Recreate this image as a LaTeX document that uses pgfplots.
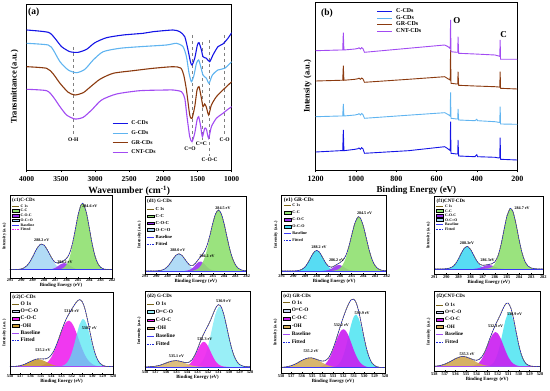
\documentclass[border=0pt]{standalone}
\usepackage{fontspec}
\setmainfont{Liberation Serif}
\usepackage{pgfplots}
\pgfplotsset{compat=1.18}
\definecolor{cC}{HTML}{1414E6}
\definecolor{cG}{HTML}{60B4F0}
\definecolor{cGR}{HTML}{8B3A0F}
\definecolor{cCNT}{HTML}{A24BF2}
\definecolor{rawc}{HTML}{7A6418}
\definecolor{fitc}{HTML}{1E2ADC}
\definecolor{basec}{HTML}{3A3AF5}
\definecolor{fcc}{HTML}{8FE070}
\definecolor{fcoc}{HTML}{9A32F0}
\definecolor{focoA}{HTML}{A9D7F5}
\definecolor{focoB}{HTML}{45D8F2}
\definecolor{fmag}{HTML}{EE22EE}
\definecolor{foh}{HTML}{C99A35}
\definecolor{foco}{HTML}{55E5F2}
\definecolor{flav}{HTML}{C8D4F5}
\tikzset{
 pk/.style={font=\bfseries\fontsize{4.1}{4.5}\selectfont, inner sep=0pt},
 ttl/.style={font=\bfseries\fontsize{5}{5.5}\selectfont, anchor=north west, inner sep=0pt},
}
\pgfplotsset{
 area legend/.style={legend image code/.code={\fill[##1] (0pt,-1.3pt) rectangle (7pt,1.5pt);}},
 xpsbase/.style={scale only axis, x dir=reverse, ytick=\empty, axis on top,
   axis line style={line width=0.5pt}, tick style={line width=0.4pt, black},
   tick align=inside, major tick length=1.2pt, xtick pos=left,
   tick label style={font=\bfseries\fontsize{4.3}{4.5}\selectfont, inner sep=0.8pt},
   /pgf/number format/assume math mode=true, /pgf/number format/1000 sep={},
   xlabel={Binding Energy (eV)}, ylabel={Intensity (a.u.)},
   xlabel style={font=\bfseries\fontsize{4.8}{5}\selectfont, inner sep=0.6pt},
   every axis y label/.style={at={(rel axis cs:-0.025,0.5)}, rotate=90, anchor=south,
     font=\bfseries\fontsize{4.3}{5}\selectfont, inner sep=1pt},
   legend image code/.code={\draw[##1] (0pt,0pt) -- (7pt,0pt);},
   legend cell align=left,
   legend style={draw=none, fill=none, at={(rel axis cs:0.015,0.88)}, anchor=north west,
     inner sep=0pt, /tikz/every odd column/.append style={column sep=1.2pt}}},
 xpsC/.style={xpsbase, xmin=282, xmax=291, xtick={282,283,...,291}},
 xpsO/.style={xpsbase, xmin=528, xmax=538, xtick={528,529,...,538}},
 comp/.style={draw=none, forget plot, smooth, fill opacity=0.9},
 rawl/.style={color=rawc, line width=0.55pt, smooth, forget plot},
 fitl/.style={color=fitc, line width=0.6pt, dash pattern=on 1.6pt off 1pt, smooth, forget plot},
 basel/.style={color=basec, line width=0.6pt, forget plot},
}
\begin{document}
\begin{tikzpicture}
\useasboundingbox (0pt,0pt) rectangle (550pt,391pt);
% ---------------- (a) FTIR ----------------
\begin{axis}[at={(26.7pt,221pt)}, anchor=south west, scale only axis, width=205pt, height=166pt,
  x dir=reverse, xmin=1000, xmax=4000, ymin=0, ymax=166, ytick=\empty,
  xtick={1000,1500,2000,2500,3000,3500,4000}, xtick pos=left, tick align=outside,
  major tick length=2.5pt, axis line style={line width=0.8pt}, tick style={line width=0.6pt, black},
  tick label style={font=\bfseries\fontsize{7.5}{8}\selectfont},
  /pgf/number format/assume math mode=true, /pgf/number format/1000 sep={},
  xlabel={Wavenumber (cm\textsuperscript{-1})}, ylabel={Transmittance (a.u.)},
  xlabel style={font=\bfseries\fontsize{9.5}{10}\selectfont, inner sep=1pt},
  every axis y label/.style={at={(rel axis cs:-0.035,0.5)}, rotate=90, anchor=south,
     font=\bfseries\fontsize{8.5}{9}\selectfont, inner sep=1pt},
  legend image code/.code={\draw[#1] (0pt,0pt) -- (15pt,0pt);},
  legend cell align=left,
  legend style={draw=none, fill=none, at={(rel axis cs:0.415,0.30)}, anchor=north west,
     font=\bfseries\fontsize{5.8}{6}\selectfont, row sep=3.8pt, inner sep=0pt,
     nodes={inner sep=0.3pt}, /tikz/every odd column/.append style={column sep=3pt}}]
\draw[gray, dashed, line width=0.4pt] (axis cs:3319,123) -- (axis cs:3319,36);
\draw[gray, dashed, line width=0.4pt] (axis cs:1580,135) -- (axis cs:1580,27);
\draw[gray, dashed, line width=0.4pt] (axis cs:1435,128) -- (axis cs:1435,30);
\draw[gray, dashed, line width=0.4pt] (axis cs:1332,130) -- (axis cs:1332,14);
\draw[gray, dashed, line width=0.4pt] (axis cs:1103,135) -- (axis cs:1103,34);
\addplot[cC, line width=1.1pt, smooth, tension=0.4] coordinates {(4000,140) (3685,137.7) (3587,131.7) (3489,123.3) (3367,118.3) (3246,117.7) (3123,120.7) (3002,127.3) (2831,132.3) (2589,135) (2296,136.7) (2150,138.3) (1858,140) (1760,138.3) (1687,133.3) (1639,120) (1604,108.3) (1581,105) (1541,111.7) (1502,125) (1478,127.3) (1443,120) (1420,113.3) (1370,111.7) (1322,108.3) (1274,115) (1201,123.3) (1128,126) (1055,131.7) (1000,137.3)};
\addlegendentry{C-CDs}
\addplot[cG, line width=1.1pt, smooth, tension=0.4] coordinates {(4000,126.7) (3685,125) (3611,120) (3513,108.3) (3392,100) (3270,97.3) (3148,100.7) (3027,110) (2881,118.3) (2637,121.7) (2345,123.3) (1955,125) (1808,126.7) (1712,123.3) (1662,113.3) (1624,96.7) (1589,88.3) (1551,95) (1516,106.7) (1483,110) (1453,103.3) (1420,95) (1370,91.7) (1332,86.7) (1282,95) (1201,100) (1103,101.7) (1000,108.3)};
\addlegendentry{G-CDs}
\addplot[cGR, line width=1.1pt, smooth, tension=0.4] coordinates {(4000,103.3) (3708,101.7) (3611,96) (3513,86.7) (3392,77.7) (3294,75) (3173,77.3) (3075,82.7) (2929,90.7) (2735,96.7) (2443,99.3) (2150,101.7) (1858,103.3) (1746,102) (1702,95) (1662,80) (1614,55) (1581,51.7) (1541,63.3) (1507,80) (1478,83.3) (1443,71.7) (1420,63.3) (1395,66) (1370,62.7) (1337,55) (1297,65) (1224,73.3) (1128,80) (1000,88.3)};
\addlegendentry{GR-CDs}
\addplot[cCNT, line width=1.1pt, smooth, tension=0.4] coordinates {(4000,80.7) (3708,79.3) (3611,73) (3513,63.3) (3416,55) (3294,51) (3173,52.7) (3050,60) (2904,70) (2685,76) (2345,79.3) (1955,80) (1858,80) (1735,78.3) (1687,71.7) (1654,53.3) (1614,33.3) (1581,28.3) (1541,36.7) (1507,50) (1483,53.3) (1453,43.3) (1429,33.3) (1395,41.7) (1370,40.7) (1337,31.7) (1297,43.3) (1224,51.7) (1128,56.7) (1055,60.7) (1000,63.3)};
\addlegendentry{CNT-CDs}
\node[font=\bfseries\fontsize{9.5}{10}\selectfont, anchor=north west, inner sep=0pt] at (rel axis cs:0.006,0.976) {(a)};
\node[font=\bfseries\fontsize{5.5}{6}\selectfont] at (axis cs:3319,30.7) {O-H};
\node[font=\bfseries\fontsize{5.5}{6}\selectfont] at (axis cs:1610,21.7) {C=O};
\node[font=\bfseries\fontsize{5.5}{6}\selectfont] at (axis cs:1443,26) {C=C};
\node[font=\bfseries\fontsize{5.5}{6}\selectfont] at (axis cs:1322,10) {C-O-C};
\node[font=\bfseries\fontsize{5.5}{6}\selectfont] at (axis cs:1103,30) {C-O};
\end{axis}
% ---------------- (b) XPS survey ----------------
\begin{axis}[at={(315.7pt,221pt)}, anchor=south west, scale only axis, width=201.6pt, height=167.3pt,
  x dir=reverse, xmin=200, xmax=1200, ymin=0, ymax=167.3, ytick=\empty,
  xtick={200,400,600,800,1000,1200}, xtick pos=left, tick align=outside,
  major tick length=2.5pt, axis line style={line width=0.8pt}, tick style={line width=0.6pt, black},
  tick label style={font=\bfseries\fontsize{8}{8.5}\selectfont},
  /pgf/number format/assume math mode=true, /pgf/number format/1000 sep={},
  xlabel={Binding Energy (eV)}, ylabel={Intensity (a.u.)},
  xlabel style={font=\bfseries\fontsize{9}{10}\selectfont, inner sep=1pt},
  every axis y label/.style={at={(rel axis cs:-0.015,0.5)}, rotate=90, anchor=south,
     font=\bfseries\fontsize{8.5}{9}\selectfont, inner sep=1pt},
  legend image code/.code={\draw[#1] (0pt,0pt) -- (15pt,0pt);},
  legend cell align=left,
  legend style={draw=none, fill=none, at={(rel axis cs:0.303,0.968)}, anchor=north west,
     font=\bfseries\fontsize{6}{6.5}\selectfont, row sep=0.6pt, inner sep=0pt,
     nodes={inner sep=0.3pt}, /tikz/every odd column/.append style={column sep=3pt}}]
\addplot[cC, line width=0.9pt] coordinates {(1200,18) (1079,19.3) (1066,19.3) (1063,40) (1060,19.3) (1005,20.7) (990,21.3) (985,22) (978,20.7) (972,22.3) (966,21.3) (958,16.7) (740,19.3) (560,23.3) (545,21.3) (533,19.5) (531,48.3) (529,16.7) (500,16) (495,16) (494,30) (491,14) (410,13.3) (401,15.3) (397,13.3) (311,12.7) (292,12) (287,12.3) (285,32.3) (283,10.7) (200,10)};
\addlegendentry{C-CDs}
\addplot[cG, line width=0.9pt] coordinates {(1200,53.3) (1079,54) (1066,54) (1063,66) (1060,54) (1005,55) (990,55.7) (985,56.3) (978,55) (972,56.5) (966,55.5) (958,51.7) (740,54.8) (560,57.3) (545,55.7) (533,54) (531,77.7) (529,51.7) (500,51) (495,51) (494,61) (491,50) (410,49.3) (401,50.7) (397,49.3) (311,48.3) (292,47.7) (287,47.5) (285,63.3) (283,46) (200,45.7)};
\addlegendentry{G-CDs}
\addplot[cGR, line width=0.9pt] coordinates {(1200,89) (1079,89.7) (1066,89.7) (1063,104.3) (1060,89.7) (1005,90.7) (990,91.3) (985,91.8) (978,90.7) (972,92) (966,91.2) (958,87.7) (740,90.7) (560,93.3) (545,91.3) (533,90) (531,120) (529,86.7) (500,86) (495,86) (494,98.3) (491,84.7) (410,84) (311,83.3) (292,83) (287,82.8) (285,98.3) (283,81.7) (200,81)};
\addlegendentry{GR-CDs}
\addplot[cCNT, line width=0.9pt] coordinates {(1200,119.3) (1079,120) (1066,120) (1063,137.3) (1060,120) (1005,121) (990,121.6) (985,122.2) (978,121) (972,122.3) (966,121.5) (958,117.7) (740,121.7) (560,125) (545,123.5) (533,121.5) (531,150) (529,118.3) (500,117.7) (495,117.7) (494,133.3) (491,116.7) (410,116) (311,115) (292,114) (287,113.5) (285,130) (283,110.7) (200,110.7)};
\addlegendentry{CNT-CDs}
\node[font=\bfseries\fontsize{9.5}{10}\selectfont, anchor=north west, inner sep=0pt] at (rel axis cs:0.026,0.962) {(b)};
\node[font=\bfseries\fontsize{9}{10}\selectfont] at (axis cs:500,149) {O};
\node[font=\bfseries\fontsize{9}{10}\selectfont] at (axis cs:268,135) {C};
\end{axis}
% ---------------- (c1) ----------------
\begin{axis}[xpsC, at={(10pt,113pt)}, anchor=south west, width=102pt, height=83pt, ymin=-0.1, ymax=0.9,
  legend style={font=\bfseries\fontsize{3.8}{4}\selectfont, row sep=0.8pt, at={(rel axis cs:0.015,0.89)},
    nodes={inner sep=0.2pt, text height=2.7pt, text depth=0.8pt}}]
\addplot[comp, fill=focoA] coordinates {(290.5,0) (290,0.009) (289.75,0.023) (289.5,0.050) (289.25,0.094) (289,0.155) (288.75,0.224) (288.5,0.281) (288.25,0.309) (288,0.297) (287.75,0.249) (287.5,0.183) (287.25,0.117) (287,0.065) (286.75,0.032) (286.5,0.014) (286.25,0.005) (286,0)};
\addplot[comp, fill=fcoc] coordinates {(287.75,0) (287.5,0.003) (287.25,0.009) (287,0.022) (286.75,0.044) (286.5,0.067) (286.25,0.080) (286,0.074) (285.75,0.053) (285.5,0.030) (285.25,0.013) (285,0.004) (284.75,0)};
\addplot[comp, fill=fcc] coordinates {(287,0) (286.75,0.002) (286.5,0.007) (286.25,0.023) (286,0.062) (285.75,0.143) (285.5,0.279) (285.25,0.462) (285,0.650) (284.75,0.777) (284.6,0.800) (284.5,0.790) (284.25,0.682) (284,0.501) (283.75,0.313) (283.5,0.166) (283.25,0.075) (283,0.029) (282.75,0.009) (282.5,0.003) (282.25,0)};
\addplot[basel] coordinates {(291,0) (282,0)};
\addplot[rawl] coordinates {(291,0) (290.5,0.001) (290,0.009) (289.75,0.023) (289.5,0.050) (289.25,0.094) (289,0.155) (288.75,0.224) (288.5,0.281) (288.25,0.309) (288,0.297) (287.75,0.249) (287.5,0.186) (287.25,0.126) (287,0.087) (286.75,0.078) (286.5,0.088) (286.25,0.108) (286,0.138) (285.75,0.196) (285.5,0.309) (285.25,0.475) (285,0.654) (284.75,0.777) (284.6,0.800) (284.5,0.790) (284.25,0.682) (284,0.501) (283.75,0.313) (283.5,0.166) (283.25,0.075) (283,0.029) (282.75,0.009) (282.5,0.003) (282,0)};
\addplot[fitl] coordinates {(291,0) (290.5,0.001) (290,0.009) (289.75,0.023) (289.5,0.050) (289.25,0.094) (289,0.155) (288.75,0.224) (288.5,0.281) (288.25,0.309) (288,0.297) (287.75,0.249) (287.5,0.186) (287.25,0.126) (287,0.087) (286.75,0.078) (286.5,0.088) (286.25,0.108) (286,0.138) (285.75,0.196) (285.5,0.309) (285.25,0.475) (285,0.654) (284.75,0.777) (284.6,0.800) (284.5,0.790) (284.25,0.682) (284,0.501) (283.75,0.313) (283.5,0.166) (283.25,0.075) (283,0.029) (282.75,0.009) (282.5,0.003) (282,0)};
\addlegendimage{rawc, line width=0.6pt}\addlegendentry{C 1s}
\addlegendimage{area legend, fill=fcc}\addlegendentry{C-C}
\addlegendimage{area legend, fill=fcoc}\addlegendentry{C-O-C}
\addlegendimage{area legend, fill=focoA}\addlegendentry{O-C=O}
\addlegendimage{basec, line width=0.6pt}\addlegendentry{Baseline}
\addlegendimage{fmag, line width=0.6pt, dash pattern=on 1.6pt off 1pt}\addlegendentry{Fitted}
\node[ttl] at (rel axis cs:0.02,0.97) {(c1)C-CDs};
\node[pk] at (axis cs:283.95,0.77) {284.6 eV};
\node[pk] at (axis cs:288.2,0.35) {288.2 eV};
\node[pk] at (axis cs:286.15,0.085) {286.2 eV};
\end{axis}
% ---------------- (d1) ----------------
\begin{axis}[xpsC, at={(145pt,117pt)}, anchor=south west, width=101.7pt, height=78pt, ymin=-0.04, ymax=0.96,
  legend style={font=\bfseries\fontsize{4.6}{5}\selectfont, row sep=2.2pt, at={(rel axis cs:0.015,0.86)},
    nodes={inner sep=0.2pt, text height=3.3pt, text depth=1pt}}]
\addplot[comp, fill=focoA] coordinates {(290,0) (289.75,0.003) (289.5,0.010) (289.25,0.025) (289,0.055) (288.75,0.101) (288.5,0.156) (288.25,0.202) (288,0.220) (287.75,0.202) (287.5,0.156) (287.25,0.101) (287,0.055) (286.75,0.025) (286.5,0.010) (286.25,0.003) (286,0)};
\addplot[comp, fill=fcoc] coordinates {(287.5,0) (287.25,0.005) (287,0.016) (286.75,0.042) (286.5,0.081) (286.25,0.114) (286.1,0.120) (286,0.117) (285.75,0.089) (285.5,0.049) (285.25,0.020) (285,0.006) (284.75,0)};
\addplot[comp, fill=fcc] coordinates {(287,0) (286.75,0.004) (286.5,0.013) (286.25,0.034) (286,0.079) (285.75,0.158) (285.5,0.281) (285.25,0.439) (285,0.605) (284.75,0.732) (284.5,0.780) (284.25,0.732) (284,0.605) (283.75,0.439) (283.5,0.281) (283.25,0.158) (283,0.079) (282.75,0.034) (282.5,0.013) (282.25,0.004) (282,0)};
\addplot[basel] coordinates {(291,0) (282,0)};
\addplot[rawl] coordinates {(291,0) (290,0) (289.75,0.003) (289.5,0.010) (289.25,0.025) (289,0.055) (288.75,0.101) (288.5,0.156) (288.25,0.202) (288,0.220) (287.75,0.202) (287.5,0.156) (287.25,0.106) (287,0.071) (286.75,0.071) (286.5,0.104) (286.25,0.151) (286,0.196) (285.75,0.247) (285.5,0.330) (285.25,0.459) (285,0.611) (284.75,0.732) (284.5,0.780) (284.25,0.732) (284,0.605) (283.75,0.439) (283.5,0.281) (283.25,0.158) (283,0.079) (282.75,0.034) (282.5,0.013) (282.25,0.004) (282,0.001)};
\addplot[fitl] coordinates {(291,0) (290,0) (289.75,0.003) (289.5,0.010) (289.25,0.025) (289,0.055) (288.75,0.101) (288.5,0.156) (288.25,0.202) (288,0.220) (287.75,0.202) (287.5,0.156) (287.25,0.106) (287,0.071) (286.75,0.071) (286.5,0.104) (286.25,0.151) (286,0.196) (285.75,0.247) (285.5,0.330) (285.25,0.459) (285,0.611) (284.75,0.732) (284.5,0.780) (284.25,0.732) (284,0.605) (283.75,0.439) (283.5,0.281) (283.25,0.158) (283,0.079) (282.75,0.034) (282.5,0.013) (282.25,0.004) (282,0.001)};
\addlegendimage{rawc, line width=0.6pt}\addlegendentry{C 1s}
\addlegendimage{area legend, fill=fcc}\addlegendentry{C-C}
\addlegendimage{area legend, fill=fcoc}\addlegendentry{C-O-C}
\addlegendimage{area legend, fill=focoA}\addlegendentry{O-C=O}
\addlegendimage{basec, line width=0.6pt}\addlegendentry{Baseline}
\addlegendimage{fitc, line width=0.6pt, dash pattern=on 1.6pt off 1pt}\addlegendentry{Fitted}
\node[ttl] at (rel axis cs:0.02,0.97) {(d1) G-CDs};
\node[pk] at (axis cs:284.1,0.81) {284.5 eV};
\node[pk] at (axis cs:288.1,0.265) {288.0 eV};
\node[pk] at (axis cs:285.5,0.19) {286.1 eV};
\end{axis}
% ---------------- (e1) ----------------
\begin{axis}[xpsC, at={(281.7pt,117pt)}, anchor=south west, width=105pt, height=78.5pt, ymin=-0.04, ymax=0.96,
  legend style={font=\bfseries\fontsize{4.1}{4.5}\selectfont, row sep=2.7pt, at={(rel axis cs:0.015,0.90)},
    nodes={inner sep=0.2pt, text height=3pt, text depth=0.9pt}}]
\addplot[comp, fill=focoB] coordinates {(289.75,0) (289.5,0.006) (289.25,0.020) (289,0.050) (288.75,0.103) (288.5,0.172) (288.25,0.235) (288,0.260) (287.75,0.235) (287.5,0.172) (287.25,0.103) (287,0.050) (286.75,0.020) (286.5,0.006) (286.25,0)};
\addplot[comp, fill=fcoc] coordinates {(287.5,0) (287.25,0.003) (287,0.010) (286.75,0.026) (286.5,0.051) (286.25,0.071) (286,0.073) (285.75,0.055) (285.5,0.031) (285.25,0.013) (285,0.004) (284.75,0)};
\addplot[comp, fill=fcc] coordinates {(286.75,0) (286.5,0.004) (286.25,0.012) (286,0.033) (285.75,0.080) (285.5,0.165) (285.25,0.293) (285,0.451) (284.75,0.597) (284.5,0.682) (284.4,0.690) (284.25,0.672) (284,0.571) (283.75,0.418) (283.5,0.264) (283.25,0.144) (283,0.068) (282.75,0.028) (282.5,0.010) (282.25,0.003) (282,0)};
\addplot[basel] coordinates {(291,0) (282,0)};
\addplot[rawl] coordinates {(291,0) (290,0) (289.75,0.001) (289.5,0.006) (289.25,0.020) (289,0.050) (288.75,0.103) (288.5,0.172) (288.25,0.235) (288,0.260) (287.75,0.235) (287.5,0.172) (287.25,0.106) (287,0.060) (286.75,0.046) (286.5,0.061) (286.25,0.083) (286,0.106) (285.75,0.135) (285.5,0.196) (285.25,0.306) (285,0.455) (284.75,0.597) (284.5,0.682) (284.4,0.690) (284.25,0.672) (284,0.571) (283.75,0.418) (283.5,0.264) (283.25,0.144) (283,0.068) (282.75,0.028) (282.5,0.010) (282.25,0.003) (282,0.001)};
\addplot[fitl] coordinates {(291,0) (290,0) (289.75,0.001) (289.5,0.006) (289.25,0.020) (289,0.050) (288.75,0.103) (288.5,0.172) (288.25,0.235) (288,0.260) (287.75,0.235) (287.5,0.172) (287.25,0.106) (287,0.060) (286.75,0.046) (286.5,0.061) (286.25,0.083) (286,0.106) (285.75,0.135) (285.5,0.196) (285.25,0.306) (285,0.455) (284.75,0.597) (284.5,0.682) (284.4,0.690) (284.25,0.672) (284,0.571) (283.75,0.418) (283.5,0.264) (283.25,0.144) (283,0.068) (282.75,0.028) (282.5,0.010) (282.25,0.003) (282,0.001)};
\addlegendimage{rawc, line width=0.6pt}\addlegendentry{C 1s}
\addlegendimage{area legend, fill=fcc}\addlegendentry{C-C}
\addlegendimage{area legend, fill=fcoc}\addlegendentry{C-O-C}
\addlegendimage{area legend, fill=focoB}\addlegendentry{O-C-O}
\addlegendimage{basec, line width=0.6pt}\addlegendentry{Baseline}
\addlegendimage{fitc, line width=0.6pt, dash pattern=on 1.6pt off 1pt}\addlegendentry{Fitted}
\node[ttl, font=\bfseries\fontsize{5.4}{6}\selectfont] at (rel axis cs:0.02,0.97) {(e1) GR-CDs};
\node[pk] at (axis cs:283.9,0.74) {284.5 eV};
\node[pk] at (axis cs:287.8,0.30) {288.2 eV};
\node[pk] at (axis cs:286.3,0.13) {286.2 eV};
\end{axis}
% ---------------- (f1) ----------------
\begin{axis}[xpsC, at={(434.3pt,116.7pt)}, anchor=south west, width=109pt, height=77.6pt, ymin=-0.07, ymax=0.93,
  legend style={font=\bfseries\fontsize{3.8}{4}\selectfont, row sep=0.6pt, at={(rel axis cs:0.015,0.90)},
    nodes={inner sep=0.2pt, text height=2.7pt, text depth=0.8pt}}]
\addplot[comp, fill=focoB] coordinates {(290.25,0) (290,0.002) (289.75,0.009) (289.5,0.027) (289.25,0.065) (289,0.129) (288.75,0.208) (288.5,0.271) (288.3,0.290) (288.25,0.289) (288,0.250) (287.75,0.176) (287.5,0.101) (287.25,0.047) (287,0.018) (286.75,0.005) (286.5,0)};
\addplot[comp, fill=fcoc] coordinates {(287.75,0) (287.5,0.004) (287.25,0.012) (287,0.027) (286.75,0.043) (286.5,0.050) (286.25,0.043) (286,0.027) (285.75,0.012) (285.5,0.004) (285.25,0)};
\addplot[comp, fill=fcc] coordinates {(287,0) (286.75,0.002) (286.5,0.006) (286.25,0.022) (286,0.063) (285.75,0.152) (285.5,0.301) (285.25,0.498) (285,0.682) (284.75,0.777) (284.7,0.780) (284.5,0.735) (284.25,0.577) (284,0.377) (283.75,0.204) (283.5,0.092) (283.25,0.034) (283,0.011) (282.75,0.003) (282.5,0)};
\addplot[basel] coordinates {(291,0) (282,0)};
\addplot[rawl] coordinates {(291,0) (290.25,0) (290,0.002) (289.75,0.009) (289.5,0.027) (289.25,0.065) (289,0.129) (288.75,0.208) (288.5,0.271) (288.3,0.290) (288.25,0.289) (288,0.250) (287.75,0.176) (287.5,0.105) (287.25,0.059) (287,0.045) (286.75,0.050) (286.5,0.057) (286.25,0.065) (286,0.090) (285.75,0.164) (285.5,0.305) (285.25,0.498) (285,0.682) (284.75,0.777) (284.7,0.780) (284.5,0.735) (284.25,0.577) (284,0.377) (283.75,0.204) (283.5,0.092) (283.25,0.034) (283,0.011) (282.75,0.003) (282.5,0) (282,0)};
\addplot[fitl] coordinates {(291,0) (290.25,0) (290,0.002) (289.75,0.009) (289.5,0.027) (289.25,0.065) (289,0.129) (288.75,0.208) (288.5,0.271) (288.3,0.290) (288.25,0.289) (288,0.250) (287.75,0.176) (287.5,0.105) (287.25,0.059) (287,0.045) (286.75,0.050) (286.5,0.057) (286.25,0.065) (286,0.090) (285.75,0.164) (285.5,0.305) (285.25,0.498) (285,0.682) (284.75,0.777) (284.7,0.780) (284.5,0.735) (284.25,0.577) (284,0.377) (283.75,0.204) (283.5,0.092) (283.25,0.034) (283,0.011) (282.75,0.003) (282.5,0) (282,0)};
\addlegendimage{rawc, line width=0.6pt}\addlegendentry{C 1s}
\addlegendimage{area legend, fill=fcc}\addlegendentry{C-C}
\addlegendimage{area legend, fill=fcoc}\addlegendentry{C-O-C}
\addlegendimage{area legend, fill=focoA}\addlegendentry{O-C=O}
\addlegendimage{basec, line width=0.6pt}\addlegendentry{Baseline}
\addlegendimage{fitc, line width=0.6pt, dash pattern=on 1.6pt off 1pt}\addlegendentry{Fitted}
\node[ttl] at (rel axis cs:0.02,0.97) {(f1)CNT-CDs};
\node[pk] at (axis cs:283.75,0.78) {284.7 eV};
\node[pk] at (axis cs:288.3,0.335) {288.3eV};
\node[pk] at (axis cs:286.6,0.11) {286.3eV};
\end{axis}
% ---------------- (c2) ----------------
\begin{axis}[xpsO, at={(10pt,17pt)}, anchor=south west, width=103pt, height=82pt, ymin=-0.09, ymax=0.91,
  legend style={font=\bfseries\fontsize{5.5}{6}\selectfont, row sep=1.6pt, at={(rel axis cs:0.015,0.89)},
    nodes={inner sep=0.2pt, text height=4pt, text depth=1.2pt}}]
\addplot[comp, fill=fmag] coordinates {(535.5,0) (535.25,0.004) (535,0.010) (534.75,0.020) (534.5,0.038) (534.25,0.068) (534,0.113) (533.75,0.175) (533.5,0.252) (533.25,0.340) (533,0.427) (532.75,0.501) (532.5,0.548) (532.3,0.560) (532.25,0.559) (532,0.533) (531.75,0.474) (531.5,0.393) (531.25,0.304) (531,0.220) (530.75,0.148) (530.5,0.093) (530.25,0.055) (530,0.030) (529.75,0.015) (529.5,0.007) (529.25,0.003) (529,0)};
\addplot[comp, fill=foco, fill opacity=0.75] coordinates {(533.5,0) (533.25,0.002) (533,0.006) (532.75,0.018) (532.5,0.043) (532.25,0.090) (532,0.169) (531.75,0.278) (531.5,0.402) (531.25,0.512) (531,0.574) (530.9,0.580) (530.75,0.567) (530.5,0.493) (530.25,0.377) (530,0.254) (529.75,0.150) (529.5,0.078) (529.25,0.036) (529,0.015) (528.75,0.005) (528.5,0.002) (528.25,0)};
\addplot[comp, fill=foh] coordinates {(538,0.001) (537.5,0.003) (537,0.012) (536.5,0.033) (536,0.064) (535.5,0.088) (535.25,0.090) (535,0.085) (534.75,0.073) (534.5,0.058) (534.25,0.042) (534,0.028) (533.75,0.017) (533.5,0.010) (533.25,0.005) (533,0.002) (532.5,0)};
\addplot[basel, color=cCNT] coordinates {(538,0) (528,0)};
\addplot[rawl] coordinates {(538,0.001) (537.5,0.003) (537,0.012) (536.5,0.033) (536,0.064) (535.5,0.090) (535.25,0.094) (535,0.095) (534.75,0.093) (534.5,0.096) (534.25,0.110) (534,0.141) (533.75,0.192) (533.5,0.262) (533.25,0.347) (533,0.435) (532.75,0.520) (532.5,0.591) (532.25,0.649) (532,0.702) (531.75,0.752) (531.5,0.795) (531.25,0.816) (531,0.794) (530.75,0.715) (530.5,0.586) (530.25,0.432) (530,0.284) (529.75,0.165) (529.5,0.085) (529.25,0.039) (529,0.015) (528.75,0.005) (528.5,0.002) (528,0)};
\addplot[fitl] coordinates {(538,0.001) (537.5,0.003) (537,0.012) (536.5,0.033) (536,0.064) (535.5,0.090) (535.25,0.094) (535,0.095) (534.75,0.093) (534.5,0.096) (534.25,0.110) (534,0.141) (533.75,0.192) (533.5,0.262) (533.25,0.347) (533,0.435) (532.75,0.520) (532.5,0.591) (532.25,0.649) (532,0.702) (531.75,0.752) (531.5,0.795) (531.25,0.816) (531,0.794) (530.75,0.715) (530.5,0.586) (530.25,0.432) (530,0.284) (529.75,0.165) (529.5,0.085) (529.25,0.039) (529,0.015) (528.75,0.005) (528.5,0.002) (528,0)};
\addlegendimage{rawc, line width=0.6pt}\addlegendentry{O 1s}
\addlegendimage{area legend, fill=flav}\addlegendentry{O=C-O}
\addlegendimage{area legend, fill=fmag}\addlegendentry{C-O-C}
\addlegendimage{area legend, fill=foh}\addlegendentry{-OH}
\addlegendimage{cCNT, line width=0.6pt}\addlegendentry{Baseline}
\addlegendimage{fitc, line width=0.6pt, dash pattern=on 1.6pt off 1pt}\addlegendentry{Fitted}
\node[ttl, font=\bfseries\fontsize{5.2}{6}\selectfont] at (rel axis cs:0.02,0.97) {(c2)C-CDs};
\node[pk] at (axis cs:534.8,0.20) {535.2 eV};
\node[pk] at (axis cs:532.0,0.68) {531.9 eV};
\node[pk] at (axis cs:530.3,0.47) {530.7 eV};
\end{axis}
% ---------------- (d2) ----------------
\begin{axis}[xpsO, at={(145pt,21pt)}, anchor=south west, width=105pt, height=78.3pt, ymin=-0.04, ymax=0.96,
  legend style={font=\bfseries\fontsize{5.4}{6}\selectfont, row sep=2.6pt, at={(rel axis cs:0.015,0.88)},
    nodes={inner sep=0.2pt, text height=3.9pt, text depth=1.2pt}}]
\addplot[comp, fill=foco, fill opacity=0.6] coordinates {(533.75,0) (533.5,0.002) (533.25,0.006) (533,0.015) (532.75,0.037) (532.5,0.079) (532.25,0.152) (532,0.262) (531.75,0.405) (531.5,0.559) (531.25,0.690) (531,0.763) (530.9,0.770) (530.75,0.755) (530.5,0.668) (530.25,0.529) (530,0.375) (529.75,0.238) (529.5,0.135) (529.25,0.069) (529,0.031) (528.75,0.013) (528.5,0.005) (528.25,0.002) (528,0)};
\addplot[comp, fill=fmag] coordinates {(534.75,0) (534.5,0.002) (534.25,0.006) (534,0.015) (533.75,0.037) (533.5,0.076) (533.25,0.136) (533,0.209) (532.75,0.277) (532.5,0.316) (532.4,0.320) (532.25,0.312) (532,0.265) (531.75,0.194) (531.5,0.123) (531.25,0.067) (531,0.031) (530.75,0.013) (530.5,0.004) (530.25,0.001) (530,0)};
\addplot[comp, fill=foh!70!white] coordinates {(538,0) (537.5,0.002) (537,0.009) (536.5,0.024) (536,0.049) (535.5,0.072) (535.1,0.080) (535,0.080) (534.75,0.074) (534.5,0.064) (534.25,0.051) (534,0.038) (533.75,0.026) (533.5,0.016) (533.25,0.010) (533,0.005) (532.75,0.003) (532.5,0.001) (532.25,0)};
\addplot[basel] coordinates {(538,0) (528,0)};
\addplot[rawl] coordinates {(538,0) (537.5,0.002) (537,0.009) (536.5,0.024) (536,0.049) (535.5,0.072) (535,0.080) (534.75,0.074) (534.5,0.066) (534.25,0.057) (534,0.053) (533.75,0.063) (533.5,0.094) (533.25,0.152) (533,0.229) (532.75,0.317) (532.5,0.396) (532.25,0.464) (532,0.527) (531.75,0.599) (531.5,0.682) (531.25,0.757) (531,0.794) (530.75,0.768) (530.5,0.672) (530.25,0.530) (530,0.375) (529.75,0.238) (529.5,0.135) (529.25,0.069) (529,0.031) (528.75,0.013) (528.5,0.005) (528.25,0.002) (528,0.001)};
\addplot[fitl] coordinates {(538,0) (537.5,0.002) (537,0.009) (536.5,0.024) (536,0.049) (535.5,0.072) (535,0.080) (534.75,0.074) (534.5,0.066) (534.25,0.057) (534,0.053) (533.75,0.063) (533.5,0.094) (533.25,0.152) (533,0.229) (532.75,0.317) (532.5,0.396) (532.25,0.464) (532,0.527) (531.75,0.599) (531.5,0.682) (531.25,0.757) (531,0.794) (530.75,0.768) (530.5,0.672) (530.25,0.530) (530,0.375) (529.75,0.238) (529.5,0.135) (529.25,0.069) (529,0.031) (528.75,0.013) (528.5,0.005) (528.25,0.002) (528,0.001)};
\addlegendimage{rawc, line width=0.6pt}\addlegendentry{O 1s}
\addlegendimage{area legend, fill=foco!60!white}\addlegendentry{O=C-O}
\addlegendimage{area legend, fill=fmag}\addlegendentry{C-O-C}
\addlegendimage{area legend, fill=foh!70!white}\addlegendentry{-OH}
\addlegendimage{basec, line width=0.6pt}\addlegendentry{Baseline}
\addlegendimage{fitc, line width=0.6pt, dash pattern=on 1.6pt off 1pt}\addlegendentry{Fitted}
\node[ttl] at (rel axis cs:0.02,0.97) {(d2) G-CDs};
\node[pk] at (axis cs:535.0,0.14) {535.1 eV};
\node[pk] at (axis cs:532.3,0.36) {532.3 eV};
\node[pk] at (axis cs:530.5,0.84) {530.9 eV};
\end{axis}
% ---------------- (e2) ----------------
\begin{axis}[xpsO, at={(281pt,17.7pt)}, anchor=south west, width=104pt, height=81.6pt, ymin=-0.07, ymax=0.93,
  legend style={font=\bfseries\fontsize{5.3}{6}\selectfont, row sep=2.5pt, at={(rel axis cs:0.015,0.90)},
    nodes={inner sep=0.2pt, text height=3.8pt, text depth=1.2pt}}]
\addplot[comp, fill=foco] coordinates {(533.25,0) (533,0.005) (532.75,0.013) (532.5,0.034) (532.25,0.076) (532,0.150) (531.75,0.259) (531.5,0.394) (531.25,0.529) (531,0.624) (530.8,0.650) (530.75,0.648) (530.5,0.593) (530.25,0.477) (530,0.338) (529.75,0.211) (529.5,0.116) (529.25,0.056) (529,0.024) (528.75,0.009) (528.5,0.003) (528.25,0.001) (528,0)};
\addplot[comp, fill=fmag!85!blue] coordinates {(534.75,0) (534.5,0.004) (534.25,0.009) (534,0.021) (533.75,0.043) (533.5,0.081) (533.25,0.139) (533,0.215) (532.75,0.303) (532.5,0.387) (532.25,0.447) (532,0.470) (531.75,0.447) (531.5,0.387) (531.25,0.303) (531,0.215) (530.75,0.139) (530.5,0.081) (530.25,0.043) (530,0.021) (529.75,0.009) (529.5,0.004) (529.25,0)};
\addplot[comp, fill=foh!80!white] coordinates {(538,0.002) (537.5,0.009) (537,0.024) (536.5,0.052) (536,0.087) (535.5,0.115) (535.2,0.120) (535,0.118) (534.75,0.108) (534.5,0.094) (534.25,0.076) (534,0.058) (533.75,0.042) (533.5,0.028) (533.25,0.018) (533,0.011) (532.75,0.006) (532.5,0.003) (532.25,0.001) (532,0)};
\addplot[basel] coordinates {(538,0) (528,0)};
\addplot[rawl] coordinates {(538,0.002) (537.5,0.009) (537,0.024) (536.5,0.052) (536,0.087) (535.5,0.115) (535.2,0.120) (535,0.118) (534.75,0.108) (534.5,0.098) (534.25,0.085) (534,0.079) (533.75,0.085) (533.5,0.109) (533.25,0.157) (533,0.231) (532.75,0.322) (532.5,0.424) (532.25,0.524) (532,0.620) (531.75,0.706) (531.5,0.781) (531.25,0.832) (531,0.839) (530.75,0.787) (530.5,0.674) (530.25,0.520) (530,0.359) (529.75,0.220) (529.5,0.120) (529.25,0.056) (529,0.024) (528.75,0.009) (528.5,0.003) (528,0)};
\addplot[fitl] coordinates {(538,0.002) (537.5,0.009) (537,0.024) (536.5,0.052) (536,0.087) (535.5,0.115) (535.2,0.120) (535,0.118) (534.75,0.108) (534.5,0.098) (534.25,0.085) (534,0.079) (533.75,0.085) (533.5,0.109) (533.25,0.157) (533,0.231) (532.75,0.322) (532.5,0.424) (532.25,0.524) (532,0.620) (531.75,0.706) (531.5,0.781) (531.25,0.832) (531,0.839) (530.75,0.787) (530.5,0.674) (530.25,0.520) (530,0.359) (529.75,0.220) (529.5,0.120) (529.25,0.056) (529,0.024) (528.75,0.009) (528.5,0.003) (528,0)};
\addlegendimage{rawc, line width=0.6pt}\addlegendentry{O 1s}
\addlegendimage{area legend, fill=flav}\addlegendentry{O=C-O}
\addlegendimage{area legend, fill=fmag!85!blue}\addlegendentry{C-O-C}
\addlegendimage{area legend, fill=foh!80!white}\addlegendentry{-OH}
\addlegendimage{cCNT, line width=0.6pt}\addlegendentry{Baseline}
\addlegendimage{fitc, line width=0.6pt, dash pattern=on 1.6pt off 1pt}\addlegendentry{Fitted}
\node[ttl] at (rel axis cs:0.02,0.97) {(e2) GR-CDs};
\node[pk] at (axis cs:535.1,0.20) {535.2 eV};
\node[pk] at (axis cs:532.2,0.52) {532.2 eV};
\node[pk] at (axis cs:530.2,0.67) {530.9 eV};
\end{axis}
% ---------------- (f2) ----------------
\begin{axis}[xpsO, at={(434.3pt,19.3pt)}, anchor=south west, width=105.7pt, height=80pt, ymin=-0.065, ymax=0.935,
  legend style={font=\bfseries\fontsize{5.1}{5.5}\selectfont, row sep=2.2pt, at={(rel axis cs:0.015,0.87)},
    nodes={inner sep=0.2pt, text height=3.7pt, text depth=1.1pt}}]
\addplot[comp, fill=foco] coordinates {(533.25,0) (533,0.004) (532.75,0.012) (532.5,0.033) (532.25,0.079) (532,0.163) (531.75,0.289) (531.5,0.444) (531.25,0.588) (531,0.672) (530.9,0.680) (530.75,0.662) (530.5,0.563) (530.25,0.412) (530,0.260) (529.75,0.142) (529.5,0.067) (529.25,0.027) (529,0.010) (528.75,0.003) (528.5,0.001) (528.25,0)};
\addplot[comp, fill=fmag!85!blue] coordinates {(534.75,0) (534.5,0.004) (534.25,0.010) (534,0.024) (533.75,0.051) (533.5,0.096) (533.25,0.161) (533,0.243) (532.75,0.329) (532.5,0.397) (532.25,0.429) (532.2,0.430) (532,0.415) (531.75,0.359) (531.5,0.278) (531.25,0.193) (531,0.119) (530.75,0.066) (530.5,0.033) (530.25,0.015) (530,0.006) (529.75,0.002) (529.5,0)};
\addplot[comp, fill=foh!85!white] coordinates {(538,0.003) (537.5,0.011) (537,0.030) (536.5,0.061) (536,0.098) (535.5,0.123) (535.25,0.125) (535,0.120) (534.75,0.108) (534.5,0.091) (534.25,0.072) (534,0.054) (533.75,0.038) (533.5,0.025) (533.25,0.015) (533,0.009) (532.75,0.005) (532.5,0.002) (532.25,0.001) (532,0)};
\addplot[basel, color=cCNT] coordinates {(538,0) (528,0)};
\addplot[rawl] coordinates {(538,0.003) (537.5,0.011) (537,0.030) (536.5,0.061) (536,0.098) (535.5,0.123) (535.25,0.125) (535,0.120) (534.75,0.108) (534.5,0.095) (534.25,0.082) (534,0.078) (533.75,0.089) (533.5,0.121) (533.25,0.176) (533,0.256) (532.75,0.346) (532.5,0.432) (532.25,0.509) (532,0.578) (531.75,0.648) (531.5,0.722) (531.25,0.781) (531,0.791) (530.75,0.728) (530.5,0.596) (530.25,0.427) (530,0.266) (529.75,0.144) (529.5,0.067) (529.25,0.027) (529,0.010) (528.75,0.003) (528.5,0.001) (528,0)};
\addplot[fitl] coordinates {(538,0.003) (537.5,0.011) (537,0.030) (536.5,0.061) (536,0.098) (535.5,0.123) (535.25,0.125) (535,0.120) (534.75,0.108) (534.5,0.095) (534.25,0.082) (534,0.078) (533.75,0.089) (533.5,0.121) (533.25,0.176) (533,0.256) (532.75,0.346) (532.5,0.432) (532.25,0.509) (532,0.578) (531.75,0.648) (531.5,0.722) (531.25,0.781) (531,0.791) (530.75,0.728) (530.5,0.596) (530.25,0.427) (530,0.266) (529.75,0.144) (529.5,0.067) (529.25,0.027) (529,0.010) (528.75,0.003) (528.5,0.001) (528,0)};
\addlegendimage{rawc, line width=0.6pt}\addlegendentry{O 1s}
\addlegendimage{area legend, fill=flav}\addlegendentry{O=C-O}
\addlegendimage{area legend, fill=fmag!85!blue}\addlegendentry{C-O-C}
\addlegendimage{area legend, fill=foh!85!white}\addlegendentry{-OH}
\addlegendimage{cCNT, line width=0.6pt}\addlegendentry{Baseline}
\addlegendimage{fitc, line width=0.6pt, dash pattern=on 1.6pt off 1pt}\addlegendentry{Fitted}
\node[ttl] at (rel axis cs:0.02,0.97) {(f2)CNT-CDs};
\node[pk] at (axis cs:534.9,0.16) {535.3 eV};
\node[pk] at (axis cs:532.2,0.50) {532.3 eV};
\node[pk] at (axis cs:530.4,0.66) {530.9 eV};
\end{axis}
\end{tikzpicture}
\end{document}
